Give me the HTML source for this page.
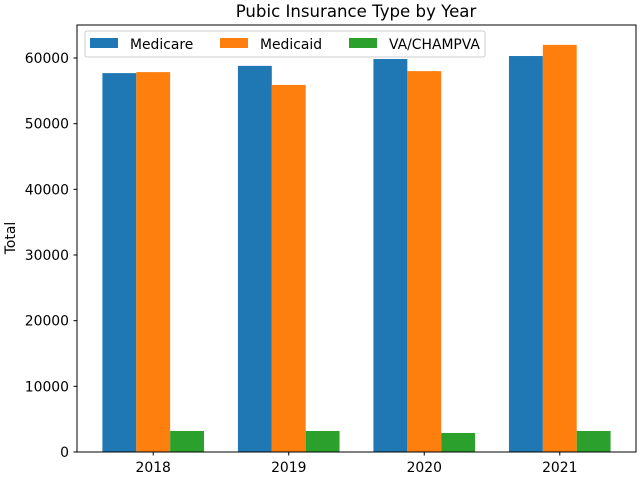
<!DOCTYPE html>
<html><head><meta charset="utf-8"><style>
body{margin:0;background:#fff;font-family:"DejaVu Sans","Liberation Sans",sans-serif;}
svg text{font-family:"DejaVu Sans","Liberation Sans",sans-serif;fill:#000}
</style></head><body>
<svg id="c" width="640" height="480" xmlns="http://www.w3.org/2000/svg"></svg>
<script>
const years=["2018","2019","2020","2021"];
const medicare=[57700,58800,59850,60300];
const medicaid=[57850,55900,58000,62000];
const va=[3200,3200,2900,3200];
const yTicks=[0,10000,20000,30000,40000,50000,60000];
const L=77,R=636,T=25,B=452;
const x=v=>L+(v+0.5625)/4.125*(R-L);
const y=v=>B-v*(394/60000);
const svg=document.getElementById('c');
const NS="http://www.w3.org/2000/svg";
function mk(tag,a,p){const e=document.createElementNS(NS,tag);for(const k in a)e.setAttribute(k,a[k]);(p||svg).appendChild(e);return e;}
const series=[[medicare,"#1f77b4","medicare"],[medicaid,"#ff7f0e","medicaid"],[va,"#2ca02c","va-champva"]];
series.forEach((s,si)=>{s[0].forEach((v,i)=>{const c=i+(si-1)*0.25;const x0=x(c-0.125),x1=x(c+0.125);
const r=mk('rect',{x:x0,y:y(v),width:x1-x0,height:B-y(v),fill:s[1]});

});});
const ax=mk('rect',{x:L,y:T,width:R-L,height:B-T,fill:'none',stroke:'#000','stroke-width':1});

years.forEach((yr,i)=>{mk('line',{x1:x(i),x2:x(i),y1:B,y2:B+3.5,stroke:'#000'});
const t=mk('text',{x:x(i),y:B+20,'text-anchor':'middle','font-size':13.9});t.textContent=yr;
});
yTicks.forEach(v=>{mk('line',{x1:L-3.5,x2:L,y1:y(v),y2:y(v),stroke:'#000'});
const t=mk('text',{x:L-8,y:y(v)+5,'text-anchor':'end','font-size':13.9});t.textContent=v;
});
const yt=mk('text',{x:15,y:238,'text-anchor':'middle','font-size':13.9,transform:'rotate(-90 15 238)'});yt.textContent='Total';

const tt=mk('text',{x:356,y:17,'text-anchor':'middle','font-size':16.6});tt.textContent='Pubic Insurance Type by Year';

const g=mk('g',{});
mk('rect',{x:85,y:31,width:400,height:26,rx:2,fill:'#fff','fill-opacity':0.8,stroke:'#ccc'},g);
const lx=[90,220,349],names=["Medicare","Medicaid","VA/CHAMPVA"];
series.forEach((s,i)=>{mk('rect',{x:lx[i],y:38,width:28,height:10,fill:s[1]},g);
const t=mk('text',{x:lx[i]+40,y:49,'font-size':13.9},g);t.textContent=names[i];
});
</script>
</body></html>
